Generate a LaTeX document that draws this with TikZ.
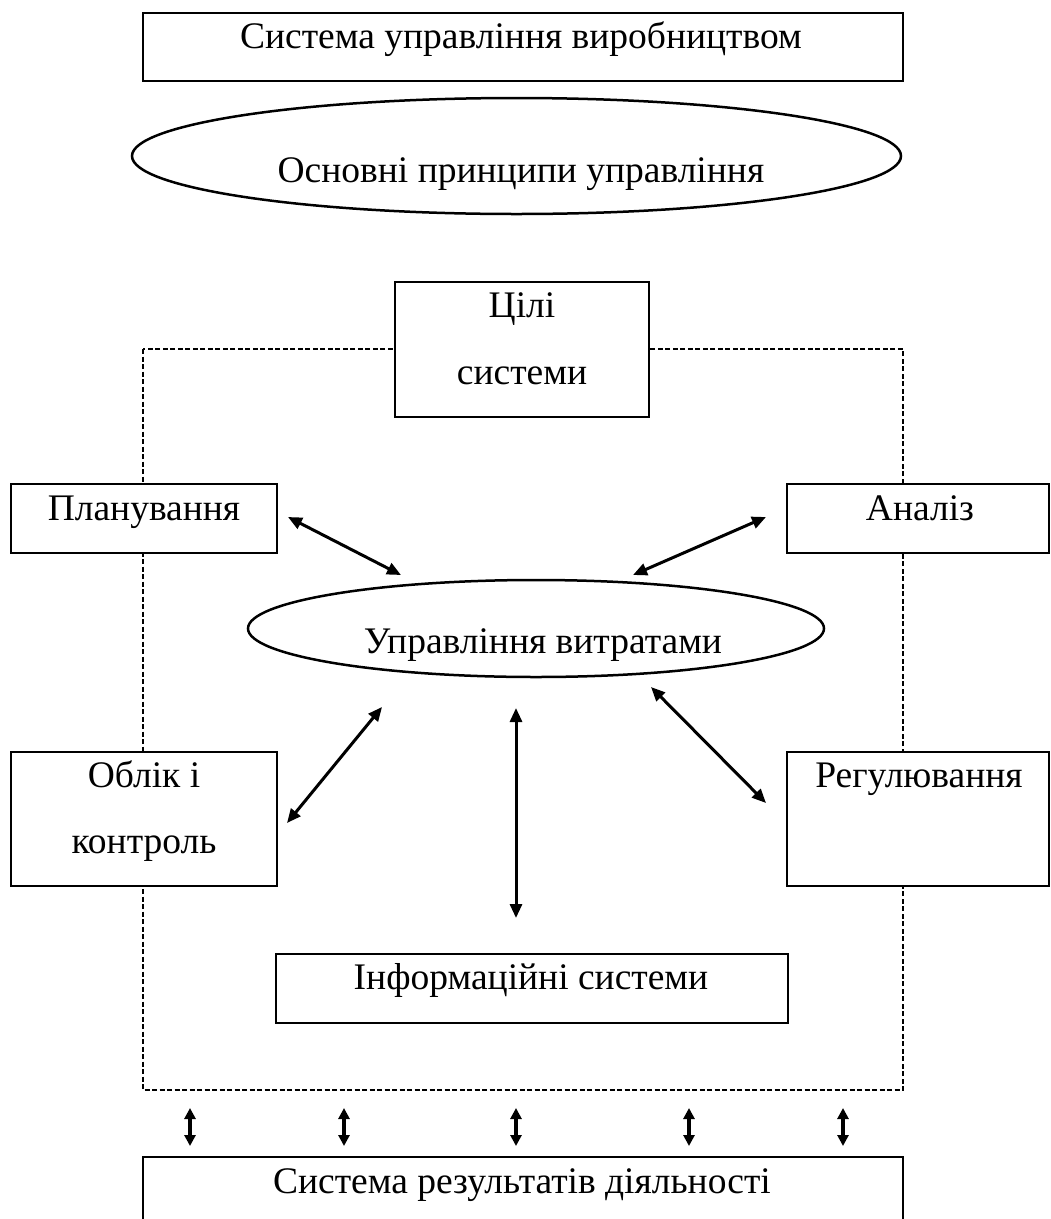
\documentclass[tikz,border=0pt]{standalone}
\usepackage{fontspec}
\setmainfont{Liberation Serif}
\usetikzlibrary{shapes.geometric,arrows.meta}

\begin{document}
\begin{tikzpicture}[x=1pt,y=-1pt,
  box/.style={draw, line width=2.7pt, fill=white, rectangle, inner sep=0pt},
  oval/.style={draw, line width=2.5pt, fill=white, ellipse, inner sep=0pt},
  frame/.style={draw, line width=1.3pt, dash pattern=on 5pt off 2.5pt},
  caption/.style={anchor=base, inner sep=0pt, font=\fontsize{37.5}{45}\selectfont},
  link/.style={line width=3pt, {Triangle[length=14pt,width=12pt]}-{Triangle[length=14pt,width=12pt]}},
  tie/.style={line width=3.2pt, {Triangle[length=11pt,width=11pt]}-{Triangle[length=11pt,width=11pt]}}
]
\useasboundingbox (0,0) rectangle (1051,1219);

% dashed outline of the cost-management system
\draw[frame] (143,349) rectangle (903,1090);

% boxes
\node[box, minimum width=760pt, minimum height=68pt]  (top)   at (523,47)    {};
\node[box, minimum width=254pt, minimum height=135pt] (goals) at (522,349.5) {};
\node[box, minimum width=266pt, minimum height=69pt]  (plan)  at (144,518.5) {};
\node[box, minimum width=262pt, minimum height=69pt]  (anal)  at (918,518.5) {};
\node[box, minimum width=266pt, minimum height=134pt] (acct)  at (144,819)   {};
\node[box, minimum width=262pt, minimum height=134pt] (regl)  at (918,819)   {};
\node[box, minimum width=512pt, minimum height=69pt]  (info)  at (532,988.5) {};
\node[box, minimum width=760pt, minimum height=110pt] (res)   at (523,1212)  {};

% ovals
\node[oval, minimum width=769pt, minimum height=116pt] (princ) at (516.5,156) {};
\node[oval, minimum width=576pt, minimum height=97pt]  (cost)  at (536,628.5) {};

% captions
\node[caption] (t-top)   at (521,48)   {Система управління виробництвом};
\node[caption] (t-princ) at (521,182)  {Основні принципи управління};
\node[caption] (t-goal1) at (522,317)  {Цілі};
\node[caption] (t-goal2) at (522,384)  {системи};
\node[caption] (t-plan)  at (144,520)  {Планування};
\node[caption] (t-anal)  at (920,520)  {Аналіз};
\node[caption] (t-cost)  at (543,653)  {Управління витратами};
\node[caption] (t-acct1) at (144,787)  {Облік і};
\node[caption] (t-acct2) at (144,853)  {контроль};
\node[caption] (t-regl)  at (919,787)  {Регулювання};
\node[caption] (t-info)  at (531,989)  {Інформаційні системи};
\node[caption] (t-res)   at (522,1193) {Система результатів діяльності};

% connector end points
\coordinate (plan-e) at (288,517);  \coordinate (cost-pl) at (401,575);
\coordinate (anal-e) at (766,517);  \coordinate (cost-an) at (633,575);
\coordinate (acct-e) at (287,823);  \coordinate (cost-ac) at (382,707);
\coordinate (regl-e) at (766,803);  \coordinate (cost-rg) at (651,687);
\coordinate (info-e) at (516,918);  \coordinate (cost-in) at (516,708);

\draw[link] (plan-e) -- (cost-pl);
\draw[link] (anal-e) -- (cost-an);
\draw[link] (acct-e) -- (cost-ac);
\draw[link] (regl-e) -- (cost-rg);
\draw[link] (info-e) -- (cost-in);

% links between the frame and the results system
\foreach \x [count=\i] in {190,344,516,689,843} {
  \coordinate (up\i) at (\x,1108);
  \coordinate (dn\i) at (\x,1146);
  \draw[tie] (up\i) -- (dn\i);
}
\end{tikzpicture}
\end{document}
